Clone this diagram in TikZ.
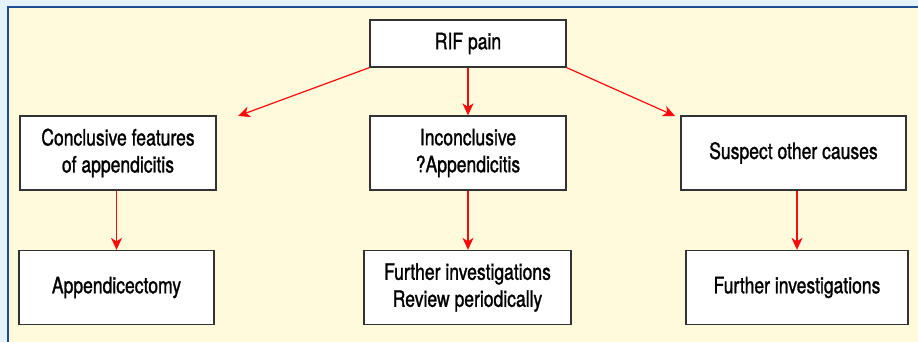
\documentclass[tikz,border=0pt]{standalone}
\usepackage{fontspec}
\setmainfont{TeX Gyre Heros}[FakeStretch=0.78,FakeBold=1.2]
\usepackage{tikz}
\usetikzlibrary{arrows.meta,positioning}
\definecolor{outerblue}{RGB}{227,242,252}
\definecolor{framedark}{RGB}{30,78,145}
\definecolor{panelcream}{RGB}{255,250,220}
\definecolor{arrowred}{RGB}{250,10,10}
\tikzset{
  flowbox/.style={rectangle, draw=black!80, line width=1.3pt, fill=white, align=center, inner sep=2pt,
    minimum height=74pt, font=\fontsize{22.5}{27}\selectfont},
  topbox/.style={flowbox, minimum height=47pt},
  redarrow/.style={draw=arrowred, line width=1.2pt, -{Stealth[length=12pt,width=11pt,inset=3.5pt]}}
}

\begin{document}
\begin{tikzpicture}[x=1pt,y=-1pt]
  % background and panel
  \useasboundingbox (0,0) rectangle (918,342);
  \fill[outerblue] (0,0) rectangle (918,342);
  \fill[panelcream] (8,7) rectangle (918,342);
  \draw[framedark, line width=1.6pt] (8,342) -- (8,7) -- (918,7);

  % top row
  \node[topbox, minimum width=196pt] (rif) at (468,43.5) {RIF pain};

  % middle row
  \node[flowbox, minimum width=196pt] (concl) at (118,153) {Conclusive features\\of appendicitis};
  \node[flowbox, minimum width=196pt] (incon) at (468,153) {Inconclusive\\?Appendicitis};
  \node[flowbox, minimum width=225pt] (susp) at (793.5,153) {Suspect other causes};

  % bottom row
  \node[flowbox, minimum width=195pt] (appx) at (116.5,287.5) {Appendicectomy};
  \node[flowbox, minimum width=207pt] (furrev) at (467.5,287.5) {Further investigations\\Review periodically};
  \node[flowbox, minimum width=222pt] (furinv) at (797,287.5) {Further investigations};

  % arrows
  \coordinate (lefttip) at (238,116);
  \coordinate (righttip) at (675,116);
  \draw[redarrow] (rif.south west) -- (lefttip);
  \draw[redarrow] (rif.south) -- (incon.north);
  \draw[redarrow] (rif.south east) -- (righttip);
  \draw[redarrow] (appx.north |- concl.south) -- (appx.north);
  \draw[redarrow] (incon.south) -- (incon.south |- furrev.north);
  \draw[redarrow] (furinv.north |- susp.south) -- (furinv.north);
\end{tikzpicture}
\end{document}
